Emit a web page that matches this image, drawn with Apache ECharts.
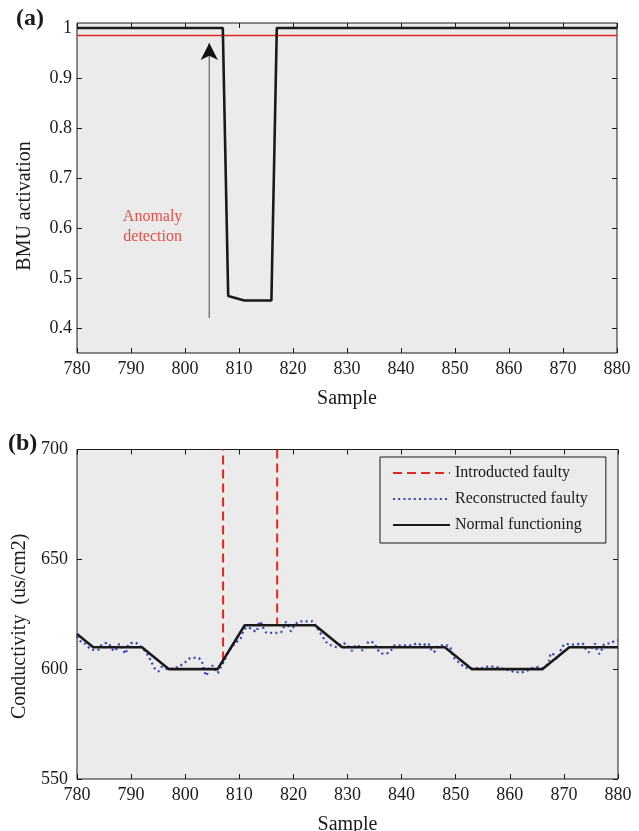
<!DOCTYPE html>
<html>
<head>
<meta charset="utf-8">
<title>BMU activation / Conductivity</title>
<script src="https://cdn.jsdelivr.net/npm/echarts@6/dist/echarts.min.js"></script>
<style>
    html, body { margin: 0; padding: 0; background: #fff; }
    #chart { width: 639px; height: 831px; }
</style>
</head>
<body>
<div id="chart"></div>
<script>
// panel (a): BMU activation, break points of the line
var bmuX = [780, 807, 808, 811, 816, 817, 880];
var bmuY = [1, 1, 0.464, 0.455, 0.455, 1, 1];
var thresholdX = [780, 880];
var thresholdY = [0.985, 0.985];
var arrowX = 804.5;
var arrowFrom = 0.42;
var arrowTo = 0.97;
var noteAt = [794, 0.603];
var yTicksA = [0.4, 0.5, 0.6, 0.7, 0.8, 0.9, 1];

// panel (b): conductivity
var normalX = [780, 783, 792, 797, 806, 811, 824, 829, 848, 853, 866, 871, 880];
var normalY = [616, 610, 610, 600, 600, 620, 620, 610, 610, 600, 600, 610, 610];
var faultyX = [807, 807, 812, 817, 817];
var faultyY = [604, 700, '-', 700, 620.5];
var reconX = [780, 780.5, 781.4, 782.9, 783.9, 784.6, 785.6, 786.9, 787.9, 788.5, 788.9, 789.6, 790.7, 791.6,
    792.5, 793.3, 793.8, 794.4, 795, 795.7, 796.8, 797.8, 798.7, 799.9, 801.2, 802.3, 803.1, 803.9, 804.5,
    805.1, 805.9, 806.6, 807.4, 808, 809.2, 810.2, 810.8, 811.5, 812.5, 813.1, 813.8, 814.3, 814.9, 815.8,
    816.9, 817.8, 818.7, 819.6, 820, 820.6, 821.4, 822.4, 823.5, 824.1, 824.7, 826.1, 827, 828.1, 829,
    829.9, 830.8, 831.7, 832.9, 833.5, 834, 834.9, 835.5, 836.1, 837.1, 838, 838.8, 839.7, 840.9, 841.9,
    842.9, 843.8, 844.8, 845.4, 845.9, 846.3, 846.9, 847.9, 848.9, 849.6, 850.5, 851.7, 852.8, 853.8,
    854.8, 856, 857.1, 858.1, 860, 861.2, 862.2, 863.3, 864.3, 865.3, 866.2, 867.3, 867.6, 868.4, 868.8,
    869.6, 870.4, 871.3, 872.2, 873.3, 874.5, 875.7, 876.1, 876.6, 877.5, 878.6, 879.6, 880];
var reconY = [615, 613, 611.8, 608.8, 608.8, 611.2, 612, 608.2, 611.5, 609.2, 607, 611.5, 612, 610.8,
    608.5, 605.5, 603, 600.2, 599, 601, 600, 600.5, 601, 603, 605.2, 605.2, 603.2, 597, 601,
    601.5, 598.2, 600.9, 604.7, 607.7, 611.8, 613.8, 617.6, 619, 617.9, 617, 621.8, 619.5, 616.8, 616.5,
    616.5, 617, 621.4, 617.3, 619.1, 621, 621.8, 621.8, 621.8, 619.8, 617.6, 612.3, 610.8, 610, 611.8,
    611.2, 608.5, 611.2, 608.5, 610.8, 612.7, 611.8, 609.2, 607.4, 607, 608.5, 610.8, 610.8, 610.8, 610.8,
    611.8, 610.8, 611.8, 609.2, 607.7, 608.8, 610.8, 610.8, 610.3, 605.5, 603.2, 601, 600.2, 600.5,
    600.5, 601.2, 601.2, 600.6, 599.4, 598.6, 598.6, 599.4, 600.6, 601, 600.5, 604.2, 607.3, 606.2, 604.7,
    609.7, 611.5, 611.2, 611.2, 611.8, 607.7, 611.5, 608.8, 607, 611.5, 611.8, 613, 613];
var yTicksB = [550, 600, 650, 700];

function zip(xs, ys) {
    var out = [];
    for (var i = 0; i < xs.length; i++) {
        out.push([xs[i], ys[i]]);
    }
    return out;
}

var serif = 'Liberation Serif';
var ink = '#1a1a1a';

function sampleAxis(grid, pos, withName) {
    return {
        type: 'value', gridIndex: grid, position: pos,
        min: 780, max: 880, interval: 10,
        name: withName ? 'Sample' : '', nameLocation: 'middle', nameGap: 36,
        nameTextStyle: {fontFamily: serif, fontSize: 20, color: ink},
        axisLine: {show: false},
        axisTick: {show: true, inside: true, length: 5, lineStyle: {color: ink}},
        axisLabel: {show: withName, fontFamily: serif, fontSize: 18, color: ink, margin: 7},
        splitLine: {show: false}
    };
}

function valueAxis(grid, pos, min, max, ticks, name, pad, margin, gap) {
    var left = pos === 'left';
    return {
        type: 'value', gridIndex: grid, position: pos,
        min: min, max: max,
        name: left ? name : '', nameLocation: 'middle', nameGap: gap,
        nameTextStyle: {fontFamily: serif, fontSize: 20, color: ink, padding: [0, pad, 0, 0]},
        axisLine: {show: false},
        axisTick: {show: true, inside: true, length: 5, customValues: ticks, lineStyle: {color: ink}},
        axisLabel: {show: left, customValues: ticks, fontFamily: serif, fontSize: 18, color: ink, margin: margin},
        splitLine: {show: false}
    };
}

var chart = echarts.init(document.getElementById('chart'));
var option = {
    backgroundColor: '#fff',
    animation: false,
    grid: [
        {left: 77, right: 22, top: 23, height: 330, outerBoundsMode: 'none', show: true, backgroundColor: '#ebebeb', borderColor: ink, borderWidth: 1},
        {left: 77, right: 21, top: 449.5, height: 329.5, outerBoundsMode: 'none', show: true, backgroundColor: '#ebebeb', borderColor: ink, borderWidth: 1}
    ],
    xAxis: [
        sampleAxis(0, 'bottom', true),
        sampleAxis(0, 'top', false),
        sampleAxis(1, 'bottom', true),
        sampleAxis(1, 'top', false)
    ],
    yAxis: [
        valueAxis(0, 'left', 0.35, 1.01, yTicksA, 'BMU activation', 36, 5, 42),
        valueAxis(0, 'right', 0.35, 1.01, yTicksA, '', 0, 5, 42),
        valueAxis(1, 'left', 550, 700, yTicksB, 'Conductivity  (us/cm2)', 24, 9, 44),
        valueAxis(1, 'right', 550, 700, yTicksB, '', 0, 9, 44)
    ],
    legend: {
        data: ['Introducted faulty', 'Reconstructed faulty', 'Normal functioning'],
        orient: 'vertical', left: 380, top: 457,
        backgroundColor: '#ebebeb', borderColor: ink, borderWidth: 1, borderRadius: 0,
        padding: [8, 18, 10, 12],
        itemWidth: 57, itemHeight: 14, itemGap: 10,
        itemStyle: {opacity: 0},
        textStyle: {fontFamily: serif, fontSize: 16, color: ink}
    },
    title: [
        {text: '(a)', left: 16, top: 7, textStyle: {fontFamily: serif, fontSize: 24, fontWeight: 'bold', color: ink}, padding: 0},
        {text: '(b)', left: 8, top: 432, textStyle: {fontFamily: serif, fontSize: 24, fontWeight: 'bold', color: ink}, padding: 0}
    ],
    series: [
        {
            name: 'threshold', type: 'line', xAxisIndex: 0, yAxisIndex: 0,
            data: zip(thresholdX, thresholdY), symbol: 'none',
            lineStyle: {color: '#e3261e', width: 1.6}
        },
        {
            name: 'BMU', type: 'line', xAxisIndex: 0, yAxisIndex: 0,
            data: zip(bmuX, bmuY), symbol: 'none',
            lineStyle: {color: ink, width: 2.6}
        },
        {
            name: 'arrow', type: 'line', xAxisIndex: 0, yAxisIndex: 0,
            data: [
                {value: [arrowX, arrowFrom], symbol: 'none'},
                {value: [arrowX, arrowTo], symbol: 'arrow', symbolSize: [13, 17], symbolOffset: [0, 0], itemStyle: {color: '#111'}}
            ],
            showSymbol: true,
            lineStyle: {color: '#777', width: 1.4}
        },
        {
            name: 'note', type: 'scatter', xAxisIndex: 0, yAxisIndex: 0,
            data: [noteAt], symbolSize: 0, silent: true,
            label: {
                show: true, position: 'inside', formatter: 'Anomaly\ndetection',
                fontFamily: serif, fontSize: 16, lineHeight: 20, color: '#e3261e', align: 'center'
            }
        },
        {
            name: 'Introducted faulty', type: 'line', xAxisIndex: 2, yAxisIndex: 2,
            data: zip(faultyX, faultyY), symbol: 'none', connectNulls: false, clip: true,
            lineStyle: {color: '#e3261e', width: 2, type: [9, 5]}, itemStyle: {color: '#e3261e'}
        },
        {
            name: 'Reconstructed faulty', type: 'line', xAxisIndex: 2, yAxisIndex: 2,
            data: zip(reconX, reconY), symbol: 'none', smooth: 0.3,
            lineStyle: {color: '#2f43b8', width: 2.2, type: [2, 3.2]}, itemStyle: {color: '#2f43b8'}
        },
        {
            name: 'Normal functioning', type: 'line', xAxisIndex: 2, yAxisIndex: 2,
            data: zip(normalX, normalY), symbol: 'none',
            lineStyle: {color: ink, width: 2.6}, itemStyle: {color: ink}
        }
    ]
};
chart.setOption(option);
</script>
</body>
</html>
